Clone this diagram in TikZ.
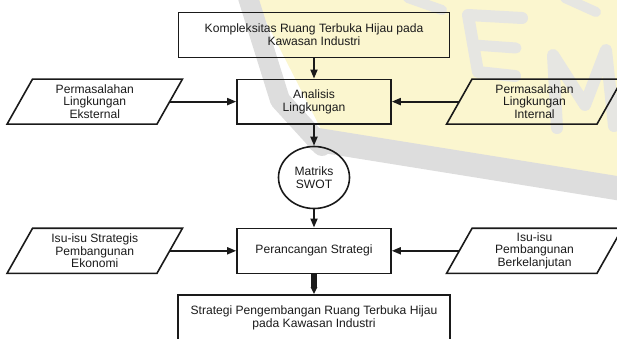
\documentclass[tikz,border=0pt]{standalone}
\usepackage{fontspec}
\setmainfont{Liberation Sans}
\usetikzlibrary{arrows.meta,shapes.geometric}

\definecolor{ink}{HTML}{1A1A1A}
\definecolor{wmyellow}{HTML}{FBF6CF}
\definecolor{wmgray}{HTML}{DDDDDD}
\definecolor{wmlight}{HTML}{E6E6E2}

\tikzset{
  basefont/.style={font=\fontsize{12.1pt}{12.8pt}\selectfont, text=ink},
  box/.style={basefont, draw=ink, line width=1.6pt, align=center, inner sep=0pt},
  paratext/.style={basefont, align=center, inner sep=0pt,
    minimum height=44.7pt},
  parashape/.style={draw=ink, line width=1.6pt, line join=miter},
  flow/.style={draw=ink, line width=1.8pt, -{Triangle[length=9pt,width=7pt]}},
  bigflow/.style={draw=ink, line width=6pt, -{Triangle[length=7pt,width=6pt]}},
  wm/.style={draw=wmgray, line cap=round, line join=round},
  wmsoft/.style={draw=wmlight, line cap=round, line join=round},
}

\begin{document}
\begin{tikzpicture}[x=1pt,y=-1pt]
\useasboundingbox (0,0) rectangle (617,338);

% faint background watermark
\fill[wmyellow] (255,0) -- (617,0) -- (617,178) -- (325,137) -- cycle;
\draw[wm, line width=20pt] (245,-12) -- (280,100) -- (322,146);
\draw[wm, line width=24pt] (318,140) -- (635,191);
\draw[wmsoft, line width=12pt] (522,18) -- (468,15) -- (478,72) -- (515,76);
\draw[wmsoft, line width=11pt] (474,45) -- (516,48);
\draw[wmsoft, line width=12pt] (557,128) -- (553,55) -- (585,105) -- (606,50) -- (614,126);
\draw[wmsoft, line width=10pt] (408,-2) -- (442,10);
\draw[wmsoft, line width=10pt] (565,-2) -- (596,12);

% process boxes
\node[box, minimum width=271pt, minimum height=45pt] (top) at (314,34.8)
  {Kompleksitas Ruang Terbuka Hijau pada\\Kawasan Industri};
\node[box, minimum width=154pt, minimum height=44.5pt] (ana) at (314,101.6)
  {Analisis\\Lingkungan};
\node[box, ellipse, minimum width=71pt, minimum height=62pt] (swot) at (314,177.5)
  {Matriks\\SWOT};
\node[box, minimum width=154pt, minimum height=45pt] (strat) at (314,250.8)
  {Perancangan Strategi};
\node[box, minimum width=272pt, minimum height=46pt] (out) at (314,318)
  {Strategi Pengembangan Ruang Terbuka Hijau\\pada Kawasan Industri};

% input parallelograms (text nodes with slanted outlines)
\node[paratext, minimum width=149.5pt] (extern) at (94.75,101.6)
  {Permasalahan\\Lingkungan\\Eksternal};
\node[paratext, minimum width=150pt] (intern) at (534.5,101.6)
  {Permasalahan\\Lingkungan\\Internal};
\node[paratext, minimum width=149.5pt] (ekon) at (94.75,250.8)
  {Isu-isu Strategis\\Pembangunan\\Ekonomi};
\node[paratext, minimum width=150pt] (lanjut) at (534.5,250.8)
  {Isu-isu\\Pembangunan\\Berkelanjutan};

\foreach \n in {extern,intern,ekon,lanjut}{
  \draw[parashape] ([xshift=12.75pt]\n.north west) -- ([xshift=12.75pt]\n.north east)
    -- ([xshift=-12.75pt]\n.south east) -- ([xshift=-12.75pt]\n.south west) -- cycle;
}

% connectors
\draw[flow] (top) -- (ana);
\draw[flow] (extern.east) -- (ana.west);
\draw[flow] (intern.west) -- (ana.east);
\draw[flow] (ana) -- (swot);
\draw[flow] (swot) -- (strat);
\draw[flow] (ekon.east) -- (strat.west);
\draw[flow] (lanjut.west) -- (strat.east);
\draw[bigflow] (strat.south) -- (out.north);
\end{tikzpicture}
\end{document}
